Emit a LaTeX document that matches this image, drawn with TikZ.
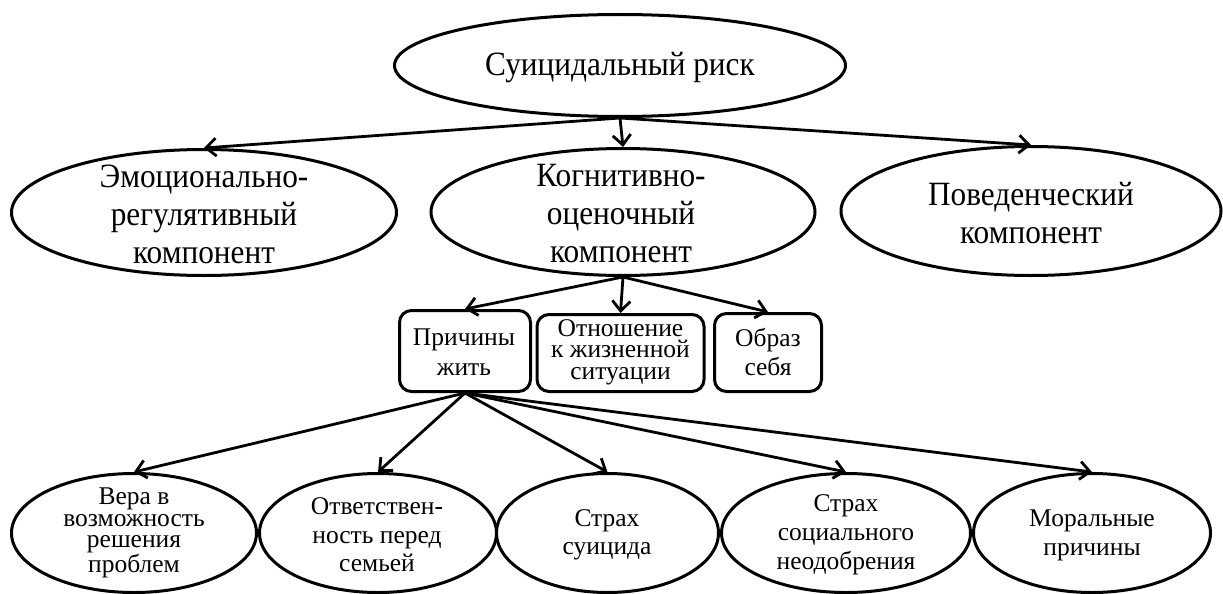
\documentclass[tikz,border=0pt]{standalone}
\usepackage{fontspec}
\setmainfont{Liberation Serif}
\newfontfamily\bigserif{Liberation Serif}[FakeStretch=0.92]
\usetikzlibrary{shapes.geometric,arrows.meta}
\newcommand\myfs[2]{\fontsize{#1}{#2}\selectfont}
\tikzset{
  oval/.style={ellipse, draw, line width=3pt, inner sep=0pt},
  rbox/.style={draw, rounded corners=12pt, line width=3pt, inner sep=0pt},
  txt/.style={align=center, inner sep=0pt},
  bigtxt/.style={txt, font=\bigserif\myfs{34}{38}},
  arr/.style={-{Straight Barb[length=10pt,width=18pt,line width=2.8pt]}, line width=2.8pt}
}
\begin{document}
\begin{tikzpicture}[x=1pt,y=-1pt]
\useasboundingbox (0,0) rectangle (1223,594);
% top
\node[oval, minimum width=451pt, minimum height=102pt] (top) at (620,65.5) {};
\node[bigtxt] (ttop) at (620,68) {Суицидальный риск};
% second row
\node[oval, minimum width=385pt, minimum height=126pt] (emo) at (204,212.5) {};
\node[bigtxt] (temo) at (204,214) {Эмоционально-\\регулятивный\\компонент};
\node[oval, minimum width=384pt, minimum height=127pt] (cog) at (623,212) {};
\node[bigtxt] (tcog) at (621,214) {Когнитивно-\\оценочный\\компонент};
\node[oval, minimum width=380pt, minimum height=129pt] (beh) at (1031,211) {};
\node[bigtxt] (tbeh) at (1031,213) {Поведенческий\\компонент};
% boxes
\node[rbox, minimum width=131pt, minimum height=81pt] (b1) at (465,351) {};
\node[txt, font=\myfs{25.5}{30}] (tb1) at (464,352) {Причины\\жить};
\node[rbox, minimum width=167pt, minimum height=77pt] (b2) at (620.5,353) {};
\node[txt, font=\myfs{25.5}{21.5}] (tb2) at (620.5,352) {Отношение\\к жизненной\\ситуации};
\node[rbox, minimum width=107pt, minimum height=78pt] (b3) at (768,352.5) {};
\node[txt, font=\myfs{25.5}{29}] (tb3) at (768,352) {Образ\\себя};
% bottom row
\node[oval, minimum width=245pt, minimum height=119pt] (e1) at (134,533) {};
\node[txt, font=\myfs{25.5}{21.5}] (te1) at (134,533) {Вера в\\возможность\\решения\\проблем};
\node[oval, minimum width=237pt, minimum height=119pt] (e2) at (378,533) {};
\node[txt, font=\myfs{25.5}{28.5}] (te2) at (377,535) {Ответствен-\\ность перед\\семьей};
\node[oval, minimum width=222pt, minimum height=119pt] (e3) at (607.5,533) {};
\node[txt, font=\myfs{25.5}{28.5}] (te3) at (607,535) {Страх\\суицида};
\node[oval, minimum width=249pt, minimum height=119pt] (e4) at (846,533) {};
\node[txt, font=\myfs{25.5}{29}] (te4) at (846,535) {Страх\\социального\\неодобрения};
\node[oval, minimum width=237pt, minimum height=119pt] (e5) at (1092,533) {};
\node[txt, font=\myfs{25.5}{29}] (te5) at (1092,535) {Моральные\\причины};
% connectors
\draw[arr] (top.south) -- (emo.north);
\draw[arr] (top.south) -- (cog.north);
\draw[arr] (top.south) -- (beh.north);
\draw[arr] (cog.south) -- (b1.north);
\draw[arr] (cog.south) -- (b2.north);
\draw[arr] (cog.south) -- (b3.north);
\draw[arr] (b1.south) -- (e1.north);
\draw[arr] (b1.south) -- (e2.north);
\draw[arr] (b1.south) -- (e3.north);
\draw[arr] (b1.south) -- (e4.north);
\draw[arr] (b1.south) -- (e5.north);
\end{tikzpicture}
\end{document}
